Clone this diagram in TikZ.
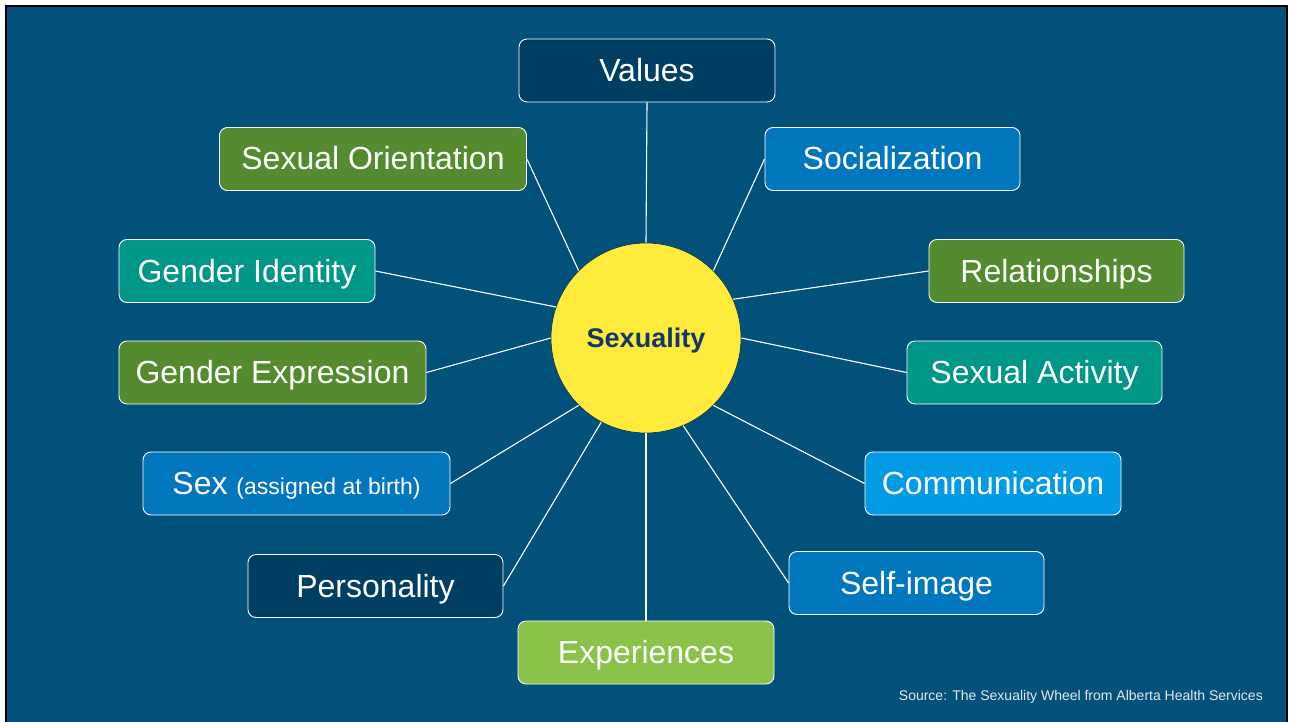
\documentclass[tikz,border=0pt]{standalone}
\usepackage{fontspec}
\setmainfont{Liberation Sans}
\definecolor{bgblue}{HTML}{02517B}
\definecolor{navybox}{HTML}{003F63}
\definecolor{greenbox}{HTML}{558B2F}
\definecolor{tealbox}{HTML}{009688}
\definecolor{bluebox}{HTML}{0277BD}
\definecolor{lightbluebox}{HTML}{039BE5}
\definecolor{limebox}{HTML}{8BC34A}
\definecolor{sunyellow}{HTML}{FFEB3B}
\definecolor{hubtext}{HTML}{12386A}
\definecolor{srcgray}{HTML}{E6EAEE}
\begin{document}
\begin{tikzpicture}[x=1pt,y=-1pt,
  box/.style={draw=white, line width=0.9pt, rounded corners=8pt, minimum height=63pt,
    minimum width=256pt, text=white, font=\fontsize{32}{36}\selectfont, inner sep=0pt,
    text height=22pt, text depth=0pt},
  widebox/.style={box, minimum width=307pt},
  conn/.style={draw=white, line width=1.1pt},
  hub/.style={circle, fill=sunyellow, draw=bgblue!60!black, line width=0.6pt, minimum size=190pt,
    inner sep=0pt, text=hubtext, font=\fontsize{27}{30}\selectfont\bfseries,
    text height=19pt, text depth=0pt}]
\useasboundingbox (0,0) rectangle (1293,722);
\fill[white] (0,0) rectangle (1293,722);
\draw[line width=2pt, fill=bgblue] (6,6) rectangle (1287,740);

\node[hub] (c) at (646,338) {Sexuality};

\node[box, fill=navybox] (values) at (647,70.5) {Values};
\node[widebox, fill=greenbox] (orient) at (373,159) {Sexual Orientation};
\node[box, fill=bluebox, minimum width=255pt] (social) at (892.5,159) {Socialization};
\node[box, fill=tealbox] (gid) at (247,271) {Gender Identity};
\node[box, fill=greenbox, minimum width=255pt] (rel) at (1056.5,271) {Relationships};
\node[widebox, fill=greenbox] (gexp) at (272.5,372.5) {Gender Expression};
\node[box, fill=tealbox, minimum width=255pt] (act) at (1034.5,372.5) {Sexual Activity};
\node[widebox, fill=bluebox] (sex) at (296.5,483.5) {Sex {\fontsize{23}{28}\selectfont(assigned at birth)}};
\node[box, fill=lightbluebox] (comm) at (993,483.5) {Communication};
\node[box, fill=navybox, minimum width=255pt] (pers) at (375.5,586) {Personality};
\node[box, fill=bluebox, minimum width=255pt] (self) at (916.5,583) {Self-image};
\node[box, fill=limebox] (exp) at (646,652.5) {Experiences};

\draw[conn] (values.south) -- (c.90);
\draw[conn] (orient.east) -- (c.135);
\draw[conn] (social.west) -- (c.45);
\draw[conn] (gid.east) -- (c.161);
\draw[conn] (rel.west) -- (c.24);
\draw[conn] (gexp.east) -- (c.180);
\draw[conn] (act.west) -- (c.0);
\draw[conn] (sex.east) -- (c.225);
\draw[conn] (comm.west) -- (c.315);
\draw[conn] (pers.east) -- (c.242);
\draw[conn] (self.west) -- (c.293);
\draw[conn] (exp.north) -- (c.270);

\node[anchor=east, text=srcgray, font=\fontsize{14}{16}\selectfont, inner sep=0pt] (src) at (1263,697) {Source: The Sexuality Wheel from Alberta Health Services};
\end{tikzpicture}
\end{document}
